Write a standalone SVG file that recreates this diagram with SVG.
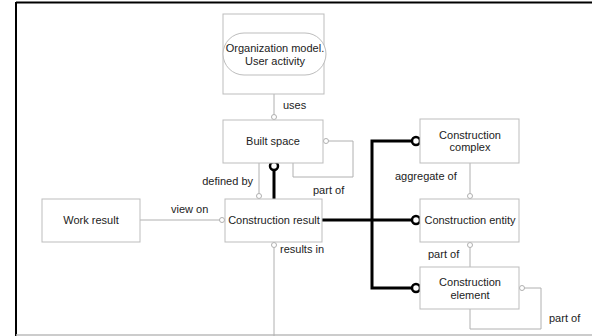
<svg xmlns="http://www.w3.org/2000/svg" width="592" height="336" viewBox="0 0 592 336">
<style>
text{font-family:"Liberation Sans",Arial,sans-serif;font-size:11px;fill:#222}
.c{text-anchor:middle}
.box{fill:#fff;stroke:#bdbdbd;stroke-width:1}
.thin{fill:none;stroke:#b0b0b0;stroke-width:1}
.thick{fill:none;stroke:#000;stroke-width:3}
.sc{fill:#fff;stroke:#b0b0b0;stroke-width:1}
.bc{fill:#fff;stroke:#000;stroke-width:2.5}
</style>
<rect x="0" y="0" width="592" height="336" fill="#fff"/>
<g id="frame">
<line x1="16" y1="2.5" x2="592" y2="2.5" stroke="#000" stroke-width="2"/>
<line x1="16" y1="2" x2="16" y2="336" stroke="#000" stroke-width="2"/>
<line x1="16" y1="335" x2="592" y2="335" stroke="#bbb" stroke-width="1.5"/>
</g>
<g id="connectors">
<line class="thin" x1="274" y1="94" x2="274" y2="117"/>
<circle class="sc" cx="274" cy="117" r="2.5"/>
<line class="thin" x1="259" y1="163" x2="259" y2="196"/>
<circle class="sc" cx="259" cy="196" r="2.5"/>
<polyline class="thin" points="326,141 353,141 353,177 293,177 293,163"/>
<circle class="sc" cx="326" cy="141" r="2.5"/>
<line class="thin" x1="140" y1="220" x2="222" y2="220"/>
<circle class="sc" cx="222" cy="220" r="2.5"/>
<line class="thin" x1="274" y1="245" x2="274" y2="336"/>
<circle class="sc" cx="274" cy="245" r="2.5"/>
<line class="thin" x1="470" y1="163" x2="470" y2="196"/>
<circle class="sc" cx="470" cy="196" r="2.5"/>
<line class="thin" x1="470" y1="245" x2="470" y2="267"/>
<circle class="sc" cx="470" cy="245" r="2.5"/>
<polyline class="thin" points="522,288 541,288 541,329 470,329 470,309"/>
<circle class="sc" cx="522" cy="288" r="2.5"/>
<line class="thick" x1="274" y1="170" x2="274" y2="199"/>
<circle class="bc" cx="274" cy="166" r="4"/>
<polyline class="thick" points="412,141 372,141 372,288 412,288"/>
<line class="thick" x1="322" y1="220" x2="412" y2="220"/>
<circle class="bc" cx="416" cy="141" r="4"/>
<circle class="bc" cx="416" cy="220" r="4"/>
<circle class="bc" cx="416" cy="288" r="4"/>
<text x="283" y="109">uses</text>
<text x="253" y="185" text-anchor="end">defined by</text>
<text x="313" y="194">part of</text>
<text x="171" y="213">view on</text>
<text x="280" y="253">results in</text>
<text x="395" y="180">aggregate of</text>
<text x="428" y="258">part of</text>
<text x="549" y="322">part of</text>
</g>
<g id="org-model">
<rect class="box" x="223" y="14" width="101" height="80"/>
<rect class="box" x="223" y="33" width="103" height="42" rx="21" ry="21" fill="none"/>
<text class="c" x="275" y="52">Organization model.</text>
<text class="c" x="275" y="65">User activity</text>
</g>
<g id="built-space">
<rect class="box" x="223" y="120" width="100" height="43"/>
<text class="c" x="273" y="145">Built space</text>
</g>
<g id="work-result">
<rect class="box" x="42" y="199" width="98" height="43"/>
<text class="c" x="91" y="224">Work result</text>
</g>
<g id="construction-result">
<rect class="box" x="225" y="199" width="97" height="43"/>
<text class="c" x="274" y="224">Construction result</text>
</g>
<g id="construction-complex">
<rect class="box" x="420" y="119" width="99" height="44"/>
<text class="c" x="470" y="139">Construction</text>
<text class="c" x="470" y="151">complex</text>
</g>
<g id="construction-entity">
<rect class="box" x="420" y="199" width="99" height="43"/>
<text class="c" x="470" y="224">Construction entity</text>
</g>
<g id="construction-element">
<rect class="box" x="420" y="267" width="99" height="42"/>
<text class="c" x="470" y="286">Construction</text>
<text class="c" x="470" y="299">element</text>
</g>
</svg>
